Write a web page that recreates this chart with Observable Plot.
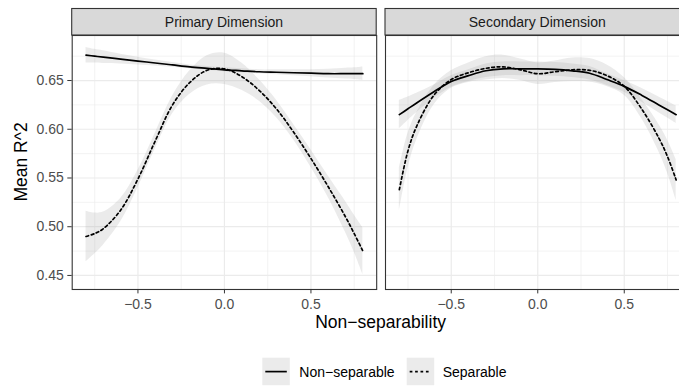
<!DOCTYPE html>
<html><head><meta charset="utf-8">
<script src="https://cdn.jsdelivr.net/npm/d3@7"></script>
<script src="https://cdn.jsdelivr.net/npm/@observablehq/plot@0.6"></script>
<style>
body{margin:0;background:#fff;font-family:"Liberation Sans",Arial,sans-serif;}
#wrap{position:relative;width:679px;height:387px;overflow:hidden;background:#fff;}
.pane{position:absolute;top:0;}
#overlay{position:absolute;left:0;top:0;pointer-events:none;}
</style></head>
<body><div id="wrap"></div>
<script>
// ---- data ----
const panels = ["Primary Dimension", "Secondary Dimension"];
const groups = ["Non-separable", "Separable"];
const xs = [-0.8, -0.75, -0.7, -0.6, -0.5, -0.4, -0.3, -0.2, -0.1, 0, 0.1, 0.2, 0.3, 0.4, 0.5, 0.6, 0.7, 0.75, 0.8];

const p1NonSep   = [0.676, 0.675, 0.674, 0.672, 0.670, 0.668, 0.666, 0.664, 0.6625, 0.661, 0.660, 0.659, 0.6585, 0.658, 0.6575, 0.657, 0.657, 0.657, 0.657];
const p1NonSepSe = [0.008, 0.007, 0.0065, 0.005, 0.004, 0.003, 0.0025, 0.002, 0.002, 0.002, 0.002, 0.002, 0.0025, 0.003, 0.0035, 0.0045, 0.0055, 0.006, 0.007];
const p1Sep      = [0.490, 0.493, 0.498, 0.517, 0.549, 0.588, 0.625, 0.648, 0.6605, 0.662, 0.654, 0.640, 0.621, 0.597, 0.570, 0.541, 0.510, 0.493, 0.475];
const p1SepSe    = [0.026, 0.021, 0.017, 0.012, 0.009, 0.008, 0.009, 0.012, 0.015, 0.016, 0.014, 0.011, 0.009, 0.008, 0.009, 0.011, 0.016, 0.019, 0.024];

const p2NonSep   = [0.615, 0.621, 0.627, 0.6385, 0.649, 0.655, 0.660, 0.662, 0.662, 0.662, 0.6615, 0.660, 0.6575, 0.651, 0.644, 0.635, 0.625, 0.620, 0.615];
const p2NonSepSe = [0.0145, 0.012, 0.010, 0.007, 0.006, 0.006, 0.007, 0.007, 0.007, 0.007, 0.007, 0.007, 0.007, 0.006, 0.006, 0.007, 0.008, 0.0085, 0.009];
const p2Sep      = [0.538, 0.578, 0.603, 0.635, 0.651, 0.658, 0.6625, 0.664, 0.661, 0.657, 0.659, 0.661, 0.6605, 0.655, 0.644, 0.621, 0.591, 0.572, 0.548];
const p2SepSe    = [0.022, 0.018, 0.014, 0.010, 0.009, 0.010, 0.012, 0.012, 0.011, 0.011, 0.011, 0.012, 0.012, 0.011, 0.009, 0.010, 0.014, 0.017, 0.021];

const xDomain = [-0.88, 0.88];
const yDomain = [0.4356, 0.6962];
const xMajor = [-0.5, 0, 0.5];
const xMinor = [-0.75, -0.25, 0.25, 0.75];
const yMajor = [0.45, 0.50, 0.55, 0.60, 0.65];
const yMinor = [0.475, 0.525, 0.575, 0.625, 0.675];

function rows(panel, group, ys, se) {
  return xs.map((x, i) => ({panel, group, x, y: ys[i], lo: ys[i] - se[i], hi: ys[i] + se[i]}));
}
const data1 = [...rows(panels[0], groups[0], p1NonSep, p1NonSepSe), ...rows(panels[0], groups[1], p1Sep, p1SepSe)];
const data2 = [...rows(panels[1], groups[0], p2NonSep, p2NonSepSe), ...rows(panels[1], groups[1], p2Sep, p2SepSe)];

const FONT = '"Liberation Sans", Arial, sans-serif';
const dash = "2.7,2.7";

function makePanel(data, showY, ml, mr, width) {
  const marks = [
    Plot.gridX(xMinor, {stroke: "#ebebeb", strokeOpacity: 1, strokeWidth: 0.6}),
    Plot.gridY(yMinor, {stroke: "#ebebeb", strokeOpacity: 1, strokeWidth: 0.6}),
    Plot.gridX(xMajor, {stroke: "#ebebeb", strokeOpacity: 1, strokeWidth: 1.2}),
    Plot.gridY(yMajor, {stroke: "#ebebeb", strokeOpacity: 1, strokeWidth: 1.2}),
    Plot.areaY(data, {x: "x", y1: "lo", y2: "hi", z: "group", fill: "#999999", fillOpacity: 0.2, curve: "catmull-rom"}),
    Plot.line(data.filter(d => d.group === groups[0]), {x: "x", y: "y", stroke: "black", strokeWidth: 1.7, curve: "catmull-rom"}),
    Plot.line(data.filter(d => d.group === groups[1]), {x: "x", y: "y", stroke: "black", strokeWidth: 1.7, strokeDasharray: dash, curve: "catmull-rom"}),
    Plot.frame({stroke: "#333333", strokeWidth: 1.1}),
    Plot.axisX(xMajor, {tickSize: 4.4, tickPadding: 5, tickFormat: d3.format(".1f"), fontSize: 14, fill: "#4d4d4d", stroke: "#333333", label: null})
  ];
  if (showY) marks.push(Plot.axisY(yMajor, {tickSize: 4.4, tickPadding: 4, tickFormat: d3.format(".2f"), fontSize: 14, fill: "#4d4d4d", stroke: "#333333", label: null}));
  return Plot.plot({
    width, height: 315,
    marginLeft: ml, marginRight: mr, marginTop: 35, marginBottom: 26,
    x: {domain: xDomain},
    y: showY ? {domain: yDomain} : {domain: yDomain, axis: null},
    style: {fontFamily: FONT, fontSize: "14px", background: "transparent", overflow: "visible"},
    marks
  });
}

const wrap = document.getElementById("wrap");
const p1 = makePanel(data1, true, 71.7, 2, 378.2);
const p2 = makePanel(data2, false, 2, 2, 308.5);
const d1 = document.createElement("div"); d1.className = "pane"; d1.style.left = "0px"; d1.style.width = "378.2px"; d1.appendChild(p1);
const d2 = document.createElement("div"); d2.className = "pane"; d2.style.left = "383px"; d2.style.width = "308.5px"; d2.appendChild(p2);
wrap.appendChild(d1); wrap.appendChild(d2);

// overlay: strips, axis titles, legend
const ov = d3.select(wrap).append("svg").attr("id", "overlay").attr("width", 679).attr("height", 387)
  .style("font-family", FONT);
const r1 = p1.scale("x").range, r2 = p2.scale("x").range;
const stripDefs = [{label: panels[0], x0: r1[0], x1: r1[1]}, {label: panels[1], x0: 383 + r2[0], x1: 383 + r2[1]}];
stripDefs.forEach(s => {
  ov.append("rect").attr("x", s.x0).attr("y", 8.5).attr("width", s.x1 - s.x0).attr("height", 26.5)
    .attr("fill", "#d9d9d9").attr("stroke", "#333333").attr("stroke-width", 1.1);
  ov.append("text").attr("x", (s.x0 + s.x1) / 2).attr("y", 26.8).attr("text-anchor", "middle")
    .attr("font-size", 14).attr("fill", "#1a1a1a").text(s.label);
});
ov.append("text").attr("x", (r1[0] + 383 + r2[1]) / 2).attr("y", 327.5).attr("text-anchor", "middle")
  .attr("font-size", 17.5).attr("fill", "#000").text("Non\u2212separability");
ov.append("text").attr("transform", "translate(27,162) rotate(-90)").attr("text-anchor", "middle")
  .attr("font-size", 17.5).attr("fill", "#000").text("Mean R^2");

const legend = [{label: "Non\u2212separable", x: 262.3, dash: null, tx: 299.3}, {label: "Separable", x: 406.7, dash: dash, tx: 442.7}];
legend.forEach(l => {
  ov.append("rect").attr("x", l.x).attr("y", 357.7).attr("width", 27.5).attr("height", 27.5).attr("fill", "#ebebeb");
  ov.append("line").attr("x1", l.x + 3).attr("x2", l.x + 24.5).attr("y1", 371.6).attr("y2", 371.6)
    .attr("stroke", "black").attr("stroke-width", 1.7).attr("stroke-dasharray", l.dash);
  ov.append("text").attr("x", l.tx).attr("y", 377).attr("font-size", 14).attr("fill", "#000").text(l.label);
});
</script></body></html>
